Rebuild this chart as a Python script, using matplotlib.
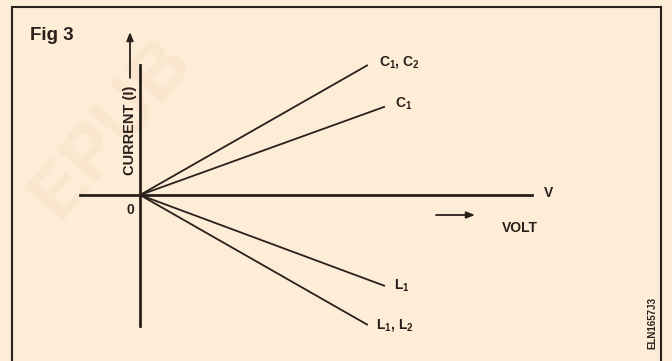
import matplotlib
matplotlib.use("Agg")
import matplotlib.pyplot as plt
from matplotlib.patches import Rectangle, FancyArrowPatch

plt.rcParams['font.family'] = ['Liberation Sans', 'DejaVu Sans']
plt.rcParams['mathtext.default'] = 'regular'

# ---- data (volt, current end points of each characteristic, from origin) ----
series_labels = [r'C$_1$, C$_2$', r'C$_1$', r'L$_1$', r'L$_1$, L$_2$']
voltage_end = [9.3, 10.0, 10.0, 9.3]
current_end = [10.0, 6.8, -7.0, -10.0]
label_offsets_px = [(11, 3), (10, 3), (9, 0), (8, 0)]

x_axis_extent = [-2.45, 16.0]
y_axis_extent = [-10.1, 10.0]

W, H = 672, 361
bg = '#FDEDD7'
ink = '#2A201B'

fig = plt.figure(figsize=(W / 100, H / 100), dpi=100)
fig.patch.set_facecolor(bg)


def fx(px):
    return px / W


def fy(py):
    return 1 - py / H


# faint watermark
fig.text(fx(112), fy(128), 'EPUB', fontsize=54, fontweight='bold', color='#FAE6CE',
         rotation=50, ha='center', va='center', zorder=-5)

ax = fig.add_axes([0, 0, 1, 1])
ax.set_zorder(1)
ax.set_facecolor('none')
ax.set_xlim(-140 / 24.5, 532 / 24.5)
ax.set_ylim(-166 / 13, 195 / 13)
ax.set_xticks([])
ax.set_yticks([])
for s in ['top', 'right']:
    ax.spines[s].set_visible(False)
ax.spines['left'].set_position(('data', 0))
ax.spines['bottom'].set_position(('data', 0))
ax.spines['left'].set_bounds(*y_axis_extent)
ax.spines['bottom'].set_bounds(*x_axis_extent)
for s in ['left', 'bottom']:
    ax.spines[s].set_linewidth(2.0)
    ax.spines[s].set_color(ink)

for v, i, lab, off in zip(voltage_end, current_end, series_labels, label_offsets_px):
    ax.plot([0, v], [0, i], color=ink, lw=1.3, solid_capstyle='butt')
    ax.annotate(lab, xy=(v, i), xytext=off, textcoords='offset pixels',
                ha='left', va='center', fontsize=10, fontweight='bold', color=ink)

# outer frame
fig.patches.append(Rectangle((fx(12), fy(400)), fx(661) - fx(12), fy(7) - fy(400),
                             transform=fig.transFigure, fill=False, edgecolor=ink, lw=1.5,
                             zorder=2))

# arrows
fig.patches.append(FancyArrowPatch((fx(130), fy(78)), (fx(130), fy(32)), transform=fig.transFigure,
                                   arrowstyle='-|>,head_length=5,head_width=2', lw=1.3, color=ink,
                                   shrinkA=0, shrinkB=0, zorder=2))
fig.patches.append(FancyArrowPatch((fx(436), fy(215)), (fx(475), fy(215)), transform=fig.transFigure,
                                   arrowstyle='-|>,head_length=5,head_width=2', lw=1.3, color=ink,
                                   shrinkA=0, shrinkB=0, zorder=2))

fig.text(fx(30), fy(35), 'Fig 3', fontsize=13.5, fontweight='bold', color=ink,
         ha='left', va='center', zorder=2)
fig.text(fx(130), fy(130), 'CURRENT (I)', fontsize=10.5, fontweight='bold', color=ink,
         rotation=90, ha='center', va='center', zorder=2)
fig.text(fx(130), fy(210), '0', fontsize=10, fontweight='bold', color=ink, ha='center',
         va='center', zorder=2)
fig.text(fx(549), fy(193), 'V', fontsize=10, fontweight='bold', color=ink, ha='center',
         va='center', zorder=2)
fig.text(fx(520), fy(228), 'VOLT', fontsize=10, fontweight='bold', color=ink, ha='center',
         va='center', zorder=2)
fig.text(fx(652), fy(323), 'ELN1657J3', fontsize=7, fontweight='bold', color=ink,
         rotation=90, ha='center', va='center', zorder=2)

fig.savefig('out.png', dpi=100, facecolor=bg)
